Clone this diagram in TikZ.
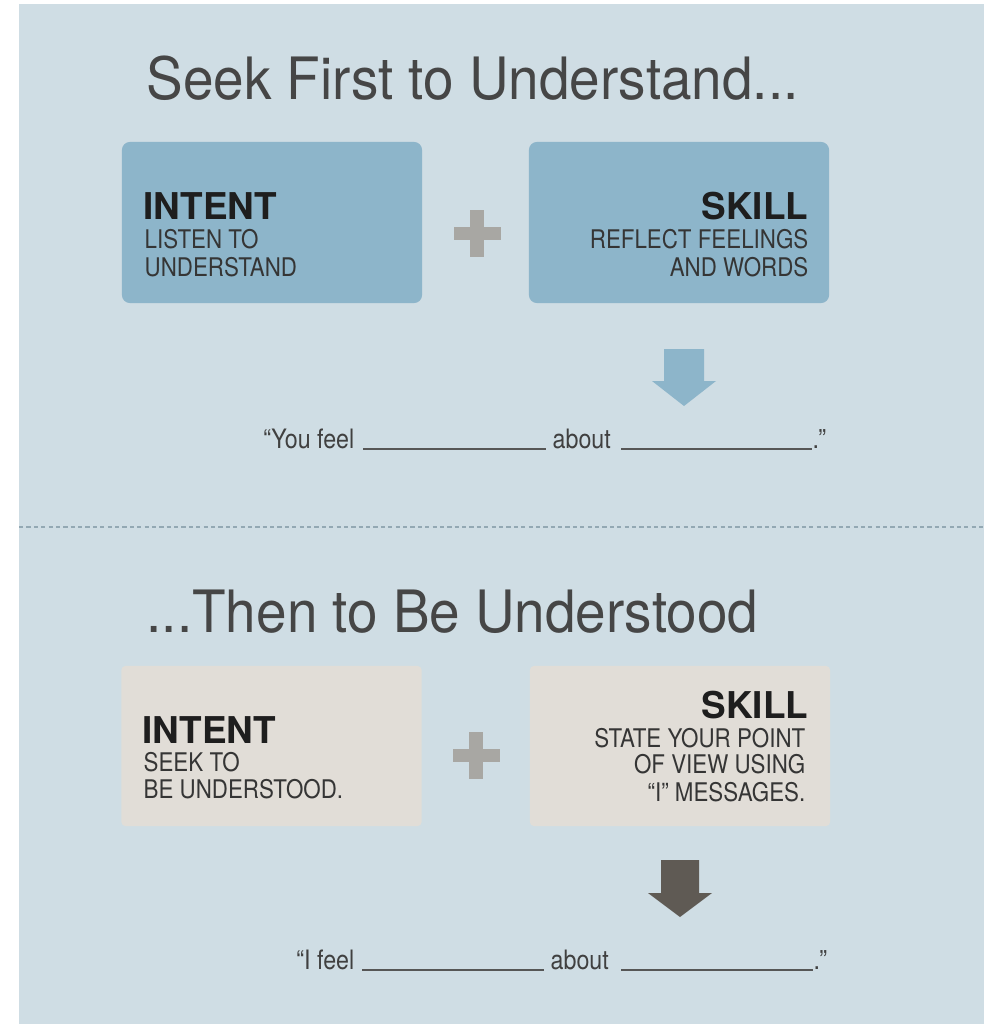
\documentclass[tikz,border=0pt]{standalone}
\usepackage{fontspec}
\setmainfont{TeX Gyre Heros}
\newfontfamily\titlefont{TeX Gyre Heros}[FakeStretch=0.94]
\newfontfamily\condfont{TeX Gyre Heros}[FakeStretch=0.87]
\usetikzlibrary{calc}

\definecolor{bgblue}{HTML}{CFDDE4}
\definecolor{boxblue}{HTML}{8DB5CA}
\definecolor{boxsand}{HTML}{E1DDD7}
\definecolor{plusgray}{HTML}{A8A7A3}
\definecolor{arrowdark}{HTML}{5F5A54}
\definecolor{dashblue}{HTML}{93A8B3}
\definecolor{ink}{HTML}{1E1E1E}

\tikzset{
  bluebox/.style={fill=boxblue, rounded corners=0.08cm, minimum width=3cm, minimum height=1.61cm, inner sep=0},
  sandbox/.style={fill=boxsand, rounded corners=0.04cm, minimum width=3cm, minimum height=1.6cm, inner sep=0},
  titletxt/.style={font=\titlefont\fontsize{16.6}{19}\selectfont, text=ink!82, inner sep=0, anchor=base west},
  headtxt/.style={font=\bfseries\fontsize{10.5}{12}\selectfont, text=ink, inner sep=0},
  subtxt/.style={font=\condfont\fontsize{7.3}{9}\selectfont, text=ink!90, inner sep=0},
  senttxt/.style={font=\condfont\fontsize{7.6}{9}\selectfont, text=ink!85, inner sep=0},
  fillin/.style={draw=ink!75, line width=0.35pt}
}

\begin{document}
\begin{tikzpicture}[x=0.01cm, y=-0.01cm]
  \useasboundingbox (0,0) rectangle (984,1024);
  \fill [white] (0,0) rectangle (984,1024);
  \fill [bgblue] (19,4) rectangle (984,1024);

  \node [titletxt] (t1) at (146,100) {Seek First to Understand...};

  \node [bluebox] (b1) at (272,222.5) {};
  \node [bluebox] (b2) at (679,222.5) {};

  \node [headtxt, anchor=base west] (i1) at (143,219) {INTENT};
  \node [subtxt, anchor=base west] (i1a) at (144,248) {LISTEN TO};
  \node [subtxt, anchor=base west] (i1b) at (144,276) {UNDERSTAND};

  \node [headtxt, anchor=base east] (s1) at (809,219) {SKILL};
  \node [subtxt, anchor=base east] (s1a) at (809,248) {REFLECT FEELINGS};
  \node [subtxt, anchor=base east] (s1b) at (809,276) {AND WORDS};

  \coordinate (p1) at (477,233);
  \fill [plusgray] ($ (p1)+(-23.5,-6.5) $) rectangle ($ (p1)+(23.5,6.5) $);
  \fill [plusgray] ($ (p1)+(-7,-23.5) $) rectangle ($ (p1)+(7,23.5) $);

  \coordinate (a1) at (684,406);
  \fill [boxblue] (a1) -- ($ (a1)+(-32,-25) $) -- ($ (a1)+(-20,-25) $) -- ($ (a1)+(-20,-57) $)
    -- ($ (a1)+(20,-57) $) -- ($ (a1)+(20,-25) $) -- ($ (a1)+(32,-25) $) -- cycle;

  \node [senttxt, anchor=base east] (y1) at (355,448) {“You feel};
  \coordinate (l1a) at (363,449);
  \coordinate (l1b) at (546,449);
  \node [senttxt, anchor=base west] (ab1) at (552,448) {about};
  \coordinate (l2a) at (621,449);
  \coordinate (l2b) at (812,449);
  \node [senttxt, anchor=base west] (q1) at (812,448) {.”};
  \draw [fillin] (l1a) -- (l1b);
  \draw [fillin] (l2a) -- (l2b);

  \draw [dashblue, line width=0.75pt, dash pattern=on 1.2pt off 0.9pt] (19,527) -- (984,527);

  \node [titletxt] (t2) at (146,632) {...Then to Be Understood};

  \node [sandbox] (b3) at (271.5,746) {};
  \node [sandbox] (b4) at (680,746) {};

  \node [headtxt, anchor=base west] (i2) at (142,743) {INTENT};
  \node [subtxt, anchor=base west] (i2a) at (143,771) {SEEK TO};
  \node [subtxt, anchor=base west] (i2b) at (143,798) {BE UNDERSTOOD.};

  \node [headtxt, anchor=base east] (s2) at (809,718) {SKILL};
  \node [subtxt, anchor=base east] (s2a) at (806,747) {STATE YOUR POINT};
  \node [subtxt, anchor=base east] (s2b) at (806,773) {OF VIEW USING};
  \node [subtxt, anchor=base east] (s2c) at (806,801) {“I” MESSAGES.};

  \coordinate (p2) at (476,755);
  \fill [plusgray] ($ (p2)+(-23.5,-6.5) $) rectangle ($ (p2)+(23.5,6.5) $);
  \fill [plusgray] ($ (p2)+(-7,-23.5) $) rectangle ($ (p2)+(7,23.5) $);

  \coordinate (a2) at (680,917);
  \fill [arrowdark] (a2) -- ($ (a2)+(-32,-24) $) -- ($ (a2)+(-19,-24) $) -- ($ (a2)+(-19,-57) $)
    -- ($ (a2)+(19,-57) $) -- ($ (a2)+(19,-24) $) -- ($ (a2)+(32,-24) $) -- cycle;

  \node [senttxt, anchor=base east] (y2) at (355,969) {“I feel};
  \coordinate (l3a) at (362,970);
  \coordinate (l3b) at (544,970);
  \node [senttxt, anchor=base west] (ab2) at (550,969) {about};
  \coordinate (l4a) at (621,970);
  \coordinate (l4b) at (813,970);
  \node [senttxt, anchor=base west] (q2) at (813,969) {.”};
  \draw [fillin] (l3a) -- (l3b);
  \draw [fillin] (l4a) -- (l4b);
\end{tikzpicture}
\end{document}
